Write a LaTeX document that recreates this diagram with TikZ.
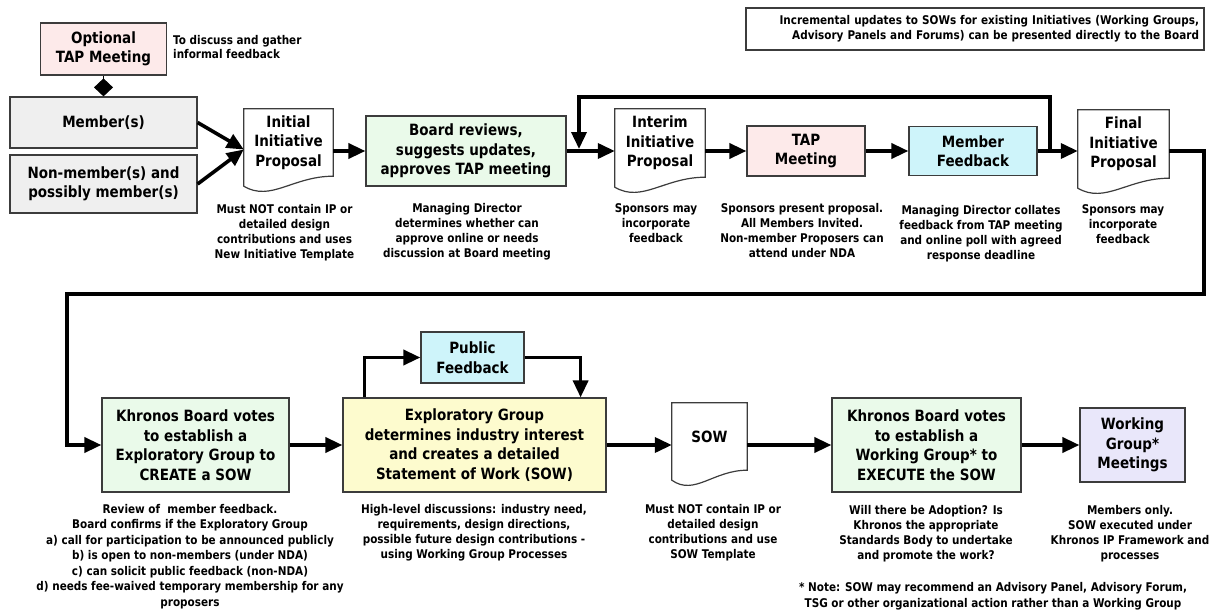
\documentclass[tikz,border=0pt]{standalone}
\usepackage{fontspec}
\setmainfont{DejaVu Sans}[FakeStretch=0.87]
\usetikzlibrary{arrows.meta,calc}
\definecolor{linec}{RGB}{60,60,60}
\definecolor{cpink}{RGB}{253,234,234}
\definecolor{cgray}{RGB}{239,239,239}
\definecolor{cgreen}{RGB}{234,250,234}
\definecolor{ccyan}{RGB}{206,244,250}
\definecolor{cyellow}{RGB}{253,251,206}
\definecolor{clav}{RGB}{233,231,250}
\newcommand\ttlfont{\bfseries\fontsize{15.5}{19.5}\selectfont}
\newcommand\annfont{\bfseries\fontsize{12}{15}\selectfont}
\newcommand\docpath[1]{%
  \draw[line width=1.2pt, draw=linec, fill=white]
    (#1.south east) -- (#1.north east) -- (#1.north west) -- ($(#1.south west)+(0,10)$)
    .. controls ($(#1.south west)!0.3!(#1.south east)+(0,26)$) and ($(#1.south west)!0.55!(#1.south east)$) .. (#1.south east) -- cycle;}
\begin{document}
\begin{tikzpicture}[x=1pt,y=-1pt,
  box/.style={draw=linec, line width=1.2pt, align=center, inner sep=0pt, font=\ttlfont},
  docn/.style={align=center, inner sep=0pt, font=\ttlfont},
  ann/.style={align=center, inner sep=0pt, anchor=north, font=\annfont},
  arr/.style={line width=3.6pt, -{Triangle[length=17pt,width=15pt]}},
]
\useasboundingbox (0,0) rectangle (1217,613);

% top note
\node[draw=linec, line width=1.2pt, text width=448pt, inner xsep=5pt, inner ysep=0pt,
  minimum height=42pt, align=right, font=\annfont] (topnote) at (975,29)
  {Incremental updates to SOWs for existing Initiatives (Working Groups,\\Advisory Panels and Forums) can be presented directly to the Board};

% row 1
\node[box, fill=cpink, minimum width=126pt, minimum height=52pt] (tapopt) at (103.5,49) {Optional\\TAP Meeting};
\node[anchor=north west, align=left, inner sep=0pt, font=\bfseries\fontsize{12}{14}\selectfont] (tapnote) at (173,35) {To discuss and gather\\informal feedback};
\node[box, fill=cgray, minimum width=187pt, minimum height=51pt] (mem) at (103.5,122.5) {Member(s)};
\node[box, fill=cgray, minimum width=187pt, minimum height=58pt] (nonmem) at (103.5,184) {Non-member(s) and\\possibly member(s)};

\node[docn, minimum width=89pt, minimum height=67pt] (init) at (288.5,142.5) {};
\docpath{init}
\node[docn] (initt) at (init) {Initial\\Initiative\\Proposal};
\node[ann] (ainit) at (284.5,204) {Must NOT contain IP or\\detailed design\\contributions and uses\\New Initiative Template};

\node[box, fill=cgreen, minimum width=200pt, minimum height=70pt] (board) at (466,151) {Board reviews,\\suggests updates,\\approves TAP meeting};
\node[ann] (aboard) at (467,203) {Managing Director\\determines whether can\\approve online or needs\\discussion at Board meeting};

\node[docn, minimum width=90pt, minimum height=68pt] (interim) at (660,143) {};
\docpath{interim}
\node[docn] (interimt) at (interim) {Interim\\Initiative\\Proposal};
\node[ann] (aint) at (656,203) {Sponsors may\\incorporate\\feedback};

\node[box, fill=cpink, minimum width=118pt, minimum height=50pt] (tap) at (806,151) {TAP\\Meeting};
\node[ann] (atap) at (802,203) {Sponsors present proposal.\\All Members Invited.\\Non-member Proposers can\\attend under NDA};

\node[box, fill=ccyan, minimum width=128pt, minimum height=49pt] (mf) at (973,151) {Member\\Feedback};
\node[ann] (amf) at (981,205) {Managing Director collates\\feedback from TAP meeting\\and online poll with agreed\\response deadline};

\node[docn, minimum width=91pt, minimum height=68pt] (final) at (1123.5,144) {};
\docpath{final}
\node[docn] (finalt) at (final) {Final\\Initiative\\Proposal};
\node[ann] (afin) at (1123,204) {Sponsors may\\incorporate\\feedback};

% row 2
\node[box, fill=cgreen, minimum width=187pt, minimum height=94pt] (kbe) at (195.5,445) {Khronos Board votes\\to establish a\\Exploratory Group to\\CREATE a SOW};
\node[ann, font=\bfseries\fontsize{12}{15.5}\selectfont] (akbe) at (190,504) {Review of~ member feedback.\\Board confirms if the Exploratory Group\\a) call for participation to be announced publicly\\b) is open to non-members (under NDA)\\c) can solicit public feedback (non-NDA)\\d) needs fee-waived temporary membership for any\\proposers};

\node[box, fill=cyellow, minimum width=263pt, minimum height=94pt] (eg) at (474.5,445) {Exploratory Group\\determines industry interest\\and creates a detailed\\Statement of Work (SOW)};
\node[box, fill=ccyan, minimum width=103pt, minimum height=51pt] (pf) at (472.5,357.5) {Public\\Feedback};
\node[ann] (aeg) at (474,504) {High-level discussions: industry need,\\requirements, design directions,\\possible future design contributions -\\using Working Group Processes};

\node[docn, minimum width=75pt, minimum height=67pt] (sow) at (709.5,436.5) {};
\docpath{sow}
\node[docn] (sowt) at (sow) {SOW};
\node[ann] (asow) at (713,504) {Must NOT contain IP or\\detailed design\\contributions and use\\SOW Template};

\node[box, fill=cgreen, minimum width=189pt, minimum height=94pt] (kbw) at (926.5,445) {Khronos Board votes\\to establish a\\Working Group* to\\EXECUTE the SOW};
\node[ann] (akbw) at (926,505) {Will there be Adoption? Is\\Khronos the appropriate\\Standards Body to undertake\\and promote the work?};

\node[box, fill=clav, minimum width=105pt, minimum height=74pt] (wgm) at (1132.5,445) {Working\\Group*\\Meetings};
\node[ann] (awgm) at (1130,505) {Members only.\\SOW executed under\\Khronos IP Framework and\\processes};

\node[ann, font=\bfseries\fontsize{12}{16}\selectfont] (botnote) at (993,582) {* Note: SOW may recommend an Advisory Panel, Advisory Forum,\\TSG or other organizational action rather than a Working Group};

% connectors
\draw[line width=1.2pt, -{Diamond[length=18pt,width=19pt]}] (tapopt.south) -- (mem.north);
\draw[arr] (mem.east) -- ([yshift=-7pt]init.west);
\draw[arr] (nonmem.east) -- ([yshift=-7pt]init.west);
\draw[arr] (init.east |- board.west) -- (board.west);
\draw[arr] (board.east) -- (board.east -| interim.west);
\draw[arr] (interim.east |- tap.west) -- (tap.west);
\draw[arr] (tap.east) -- (mf.west);
\draw[arr] (mf.east) -- (mf.east -| final.west);
\coordinate (lpR) at (1050,97);
\coordinate (lpL) at (579,97);
\coordinate (lpE) at (579,149);
\draw[arr] (mf.east -| lpR) -- (lpR) -- (lpL) -- (lpE);
\coordinate (dn1) at (1204,151);
\coordinate (dn2) at (1204,294);
\coordinate (dn3) at (67,294);
\draw[arr] (final.east |- mf.east) -- (dn1) -- (dn2) -- (dn3) |- (kbe.west);
\draw[arr] (kbe.east) -- (eg.west);
\draw[arr] ([xshift=22pt]eg.north west) |- (pf.west);
\draw[arr] (pf.east) -| ([xshift=-26pt]eg.north east);
\draw[arr] (eg.east) -- (eg.east -| sow.west);
\draw[arr] (eg.east -| sow.east) -- (kbw.west);
\draw[arr] (kbw.east) -- (wgm.west);
\end{tikzpicture}
\end{document}
